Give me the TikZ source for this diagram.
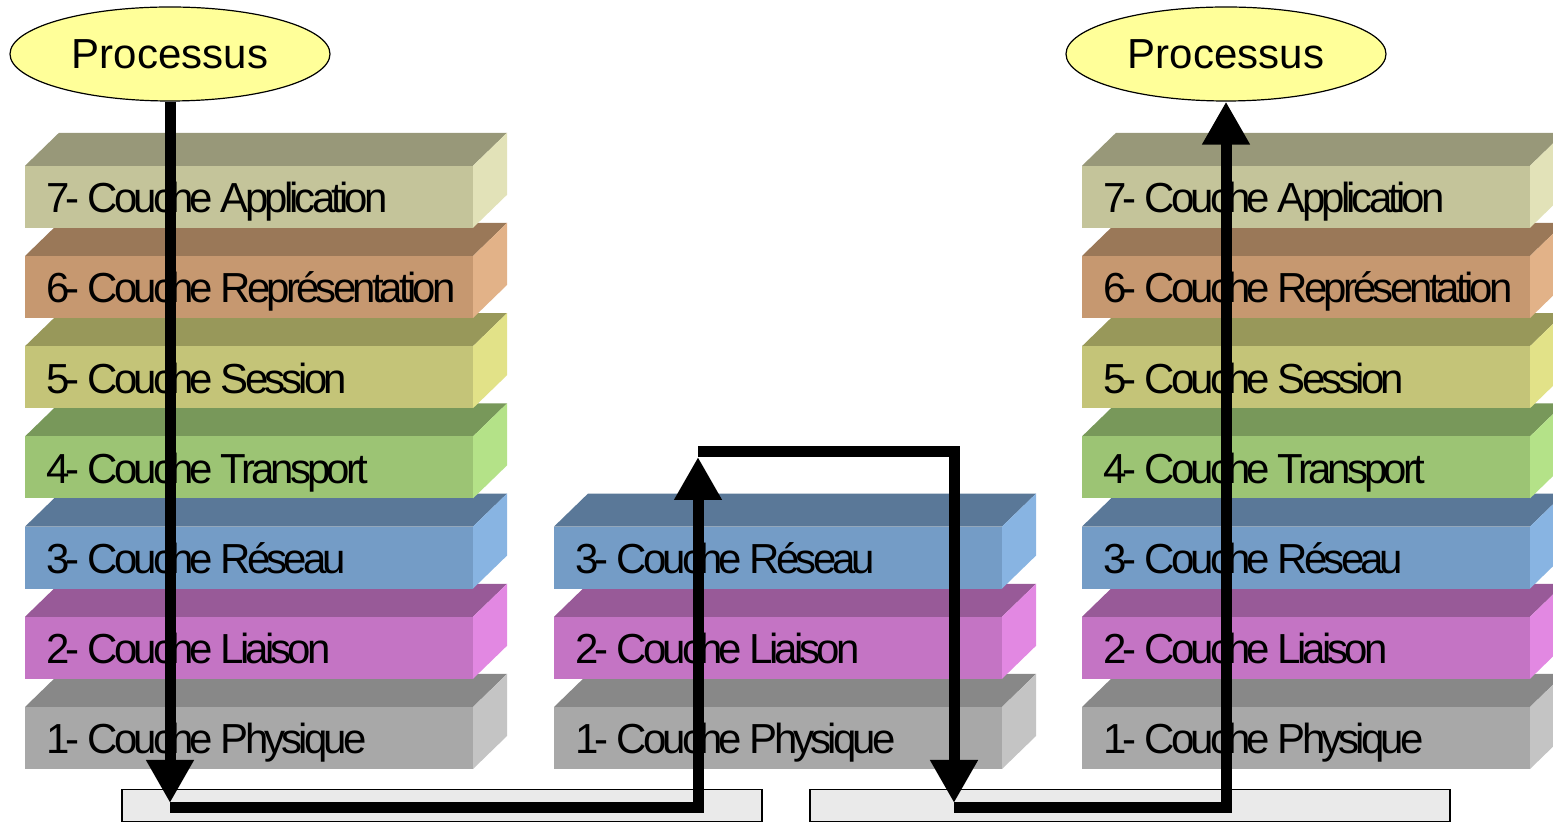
\documentclass[tikz,border=0pt]{standalone}
\usepackage{fontspec}
\setmainfont{Liberation Sans}
\newfontfamily\lbfont{Liberation Sans}[LetterSpace=-9.2]
\usetikzlibrary{arrows.meta,shapes.geometric}
\definecolor{c7f}{HTML}{C4C49A}\definecolor{c7t}{HTML}{989879}\definecolor{c7s}{HTML}{E2E2B8}
\definecolor{c6f}{HTML}{C69870}\definecolor{c6t}{HTML}{9A7858}\definecolor{c6s}{HTML}{E2B288}
\definecolor{c5f}{HTML}{C4C478}\definecolor{c5t}{HTML}{98985A}\definecolor{c5s}{HTML}{E2E288}
\definecolor{c4f}{HTML}{9CC474}\definecolor{c4t}{HTML}{78985A}\definecolor{c4s}{HTML}{B4E288}
\definecolor{c3f}{HTML}{749CC6}\definecolor{c3t}{HTML}{5A7898}\definecolor{c3s}{HTML}{88B4E2}
\definecolor{c2f}{HTML}{C474C4}\definecolor{c2t}{HTML}{985A98}\definecolor{c2s}{HTML}{E288E2}
\definecolor{c1f}{HTML}{A8A8A8}\definecolor{c1t}{HTML}{888888}\definecolor{c1s}{HTML}{C4C4C4}
\definecolor{procfill}{HTML}{FFFF99}
\definecolor{barfill}{HTML}{EAEAEA}
\newcommand\osilayer[5]{%
  \pgfmathsetmacro\yt{707-(#2-1)*90.2}%
  \fill[c#2t] (#1,\yt) -- ++(34,-33) -- ++(448,0) -- ++(-34,33) -- cycle;
  \fill[c#2s] (#1+448,\yt) -- ++(34,-33) -- ++(0,62) -- ++(-34,33) -- cycle;
  \fill[c#2f] (#1,\yt) rectangle ++(448,62);
  \node[lbl] (#5) at (#1+21,\yt+47) {#4};
}
\begin{document}
\begin{tikzpicture}[x=0.5pt,y=-0.5pt,
  lbl/.style={anchor=base west,inner sep=0pt,font=\lbfont\fontsize{21pt}{25pt}\selectfont},
  proc/.style={ellipse,draw=black,line width=0.6pt,fill=procfill,minimum width=160pt,minimum height=47pt,inner sep=0pt,font=\fontsize{21pt}{25pt}\selectfont},
  bar/.style={rectangle,draw=black,line width=0.6pt,fill=barfill,minimum width=320pt,minimum height=16pt,inner sep=0pt},
  conn/.style={draw=black,line width=5.5pt,line join=miter,-{Triangle[width=22.5pt,length=21.5pt]}},
  ]
\clip (0,0) rectangle (1553,822);
\fill[white] (0,0) rectangle (1553,822);
% left stack
\osilayer{25}{1}{c1}{1- Couche Physique}{La1}
\osilayer{25}{2}{c2}{2- Couche Liaison}{La2}
\osilayer{25}{3}{c3}{3- Couche Réseau}{La3}
\osilayer{25}{4}{c4}{4- Couche Transport}{La4}
\osilayer{25}{5}{c5}{5- Couche Session}{La5}
\osilayer{25}{6}{c6}{6- Couche Représentation}{La6}
\osilayer{25}{7}{c7}{7- Couche Application}{La7}
% middle stack
\osilayer{554}{1}{c1}{1- Couche Physique}{Lb1}
\osilayer{554}{2}{c2}{2- Couche Liaison}{Lb2}
\osilayer{554}{3}{c3}{3- Couche Réseau}{Lb3}
% right stack
\osilayer{1082}{1}{c1}{1- Couche Physique}{Lc1}
\osilayer{1082}{2}{c2}{2- Couche Liaison}{Lc2}
\osilayer{1082}{3}{c3}{3- Couche Réseau}{Lc3}
\osilayer{1082}{4}{c4}{4- Couche Transport}{Lc4}
\osilayer{1082}{5}{c5}{5- Couche Session}{Lc5}
\osilayer{1082}{6}{c6}{6- Couche Représentation}{Lc6}
\osilayer{1082}{7}{c7}{7- Couche Application}{Lc7}
% processes
\node[proc] (P1) at (170,54) {Processus};
\node[proc] (P2) at (1226,54) {Processus};
% bars
\node[bar] (B1) at (442,805.5) {};
\node[bar] (B2) at (1130,805.5) {};
% connector coordinates
\coordinate (t1) at (170,803);
\coordinate (h1) at (170,808);
\coordinate (h2) at (698,808);
\coordinate (t2) at (698,457);
\coordinate (h3) at (698,452);
\coordinate (h4) at (954,452);
\coordinate (t3) at (954,803);
\coordinate (h5) at (954,808);
\coordinate (h6) at (1226,808);
% arrows
\draw[conn] (P1.south) -- (t1);
\draw[conn] (h1) -- (h2) -- (t2);
\draw[conn] (h3) -- (h4) -- (t3);
\draw[conn] (h5) -- (h6) -- (P2.south);
\end{tikzpicture}
\end{document}
